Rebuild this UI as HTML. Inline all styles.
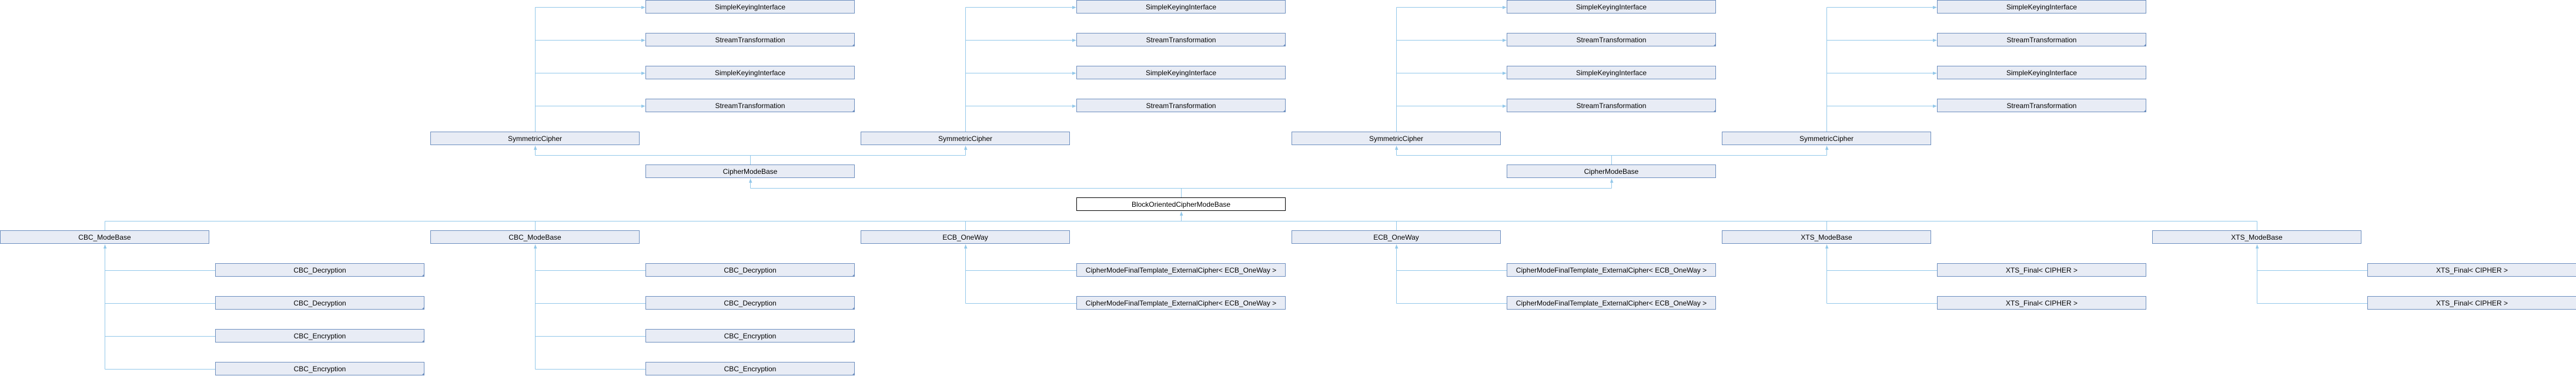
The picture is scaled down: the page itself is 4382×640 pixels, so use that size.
<!DOCTYPE html>
<html><head><meta charset="utf-8"><style>
html,body{margin:0;padding:0;background:#fff;width:4382px;height:640px;overflow:hidden}
svg text{font-family:"Liberation Sans",sans-serif;font-size:12px;fill:#000;text-anchor:middle;dominant-baseline:central}
</style></head><body>
<svg id="s" width="4382" height="640" xmlns="http://www.w3.org/2000/svg"></svg>
<script>
var s=document.getElementById('s'),NS='http://www.w3.org/2000/svg';
function col(k){return Math.round(k*366.1)}
function cc(k){return col(k)+178}
function el(t,a,txt){var e=document.createElementNS(NS,t);for(var k in a)e.setAttribute(k,a[k]);if(txt)e.textContent=txt;s.appendChild(e);return e}
var LC='#93c8ea';
function line(x1,y1,x2,y2){el('line',{x1:x1+.5,y1:y1+.5,x2:x2+.5,y2:y2+.5,stroke:LC,'stroke-width':1})}
function upArrow(x,y){el('polygon',{points:(x-2.5+.5)+','+(y+7)+' '+(x+3.5)+','+(y+7)+' '+(x+.5)+','+y,fill:LC})}
function rightArrow(x,y){el('polygon',{points:(x-7)+','+(y-2.5+.5)+' '+(x-7)+','+(y+3.5)+' '+x+','+(y+.5),fill:LC})}
function box(k,r,label,tri,hl){var x=col(k),y=r*56;
 el('rect',{x:x+.5,y:y+.5,width:355,height:22,fill:hl?'#fff':'#e8ecf5',stroke:hl?'#000':'#6c8ebf','stroke-width':1});
 if(tri)el('polygon',{points:(x+356)+','+(y+18)+' '+(x+356)+','+(y+23)+' '+(x+351)+','+(y+23),fill:'#6c8ebf'});
 el('text',{x:x+178,y:y+12},label);}
// top groups
[2,4,6,8].forEach(function(k){var c=cc(k);line(c,12,c,224);
 var labels=['SimpleKeyingInterface','StreamTransformation','SimpleKeyingInterface','StreamTransformation'];
 for(var i=0;i<4;i++){var y=i*56+12;line(c,y,col(k+1)-7,y);rightArrow(col(k+1),y);box(k+1,i,labels[i],i%2==1);}
 box(k,4,'SymmetricCipher');});
// CMB connections
[[3,2,4],[7,6,8]].forEach(function(a){line(cc(a[1]),264,cc(a[2]),264);line(cc(a[0]),264,cc(a[0]),280);
 [a[1],a[2]].forEach(function(k){line(cc(k),248,cc(k),264);upArrow(cc(k),248);});
 box(a[0],5,'CipherModeBase');});
// BOCMB
line(cc(3),320,cc(7),320);line(cc(5),320,cc(5),336);
[3,7].forEach(function(k){line(cc(k),304,cc(k),320);upArrow(cc(k),304);});
box(5,6,'BlockOrientedCipherModeBase',false,true);
line(cc(5),360,cc(5),376);upArrow(cc(5),360);
line(cc(0),376,cc(10),376);
var groups=[[0,'CBC_ModeBase',['CBC_Decryption','CBC_Decryption','CBC_Encryption','CBC_Encryption'],true],
[2,'CBC_ModeBase',['CBC_Decryption','CBC_Decryption','CBC_Encryption','CBC_Encryption'],true],
[4,'ECB_OneWay',['CipherModeFinalTemplate_ExternalCipher< ECB_OneWay >','CipherModeFinalTemplate_ExternalCipher< ECB_OneWay >'],false],
[6,'ECB_OneWay',['CipherModeFinalTemplate_ExternalCipher< ECB_OneWay >','CipherModeFinalTemplate_ExternalCipher< ECB_OneWay >'],false],
[8,'XTS_ModeBase',['XTS_Final< CIPHER >','XTS_Final< CIPHER >'],false],
[10,'XTS_ModeBase',['XTS_Final< CIPHER >','XTS_Final< CIPHER >'],false]];
groups.forEach(function(g){var k=g[0],c=cc(k);line(c,376,c,392);
 var n=g[2].length;line(c,416,c,(7+n)*56+12);upArrow(c,416);
 g[2].forEach(function(l,i){var y=(8+i)*56+12;line(c,y,col(k+1),y);box(k+1,8+i,l,g[3]);});
 box(k,7,g[1]);});
</script>
</body></html>
